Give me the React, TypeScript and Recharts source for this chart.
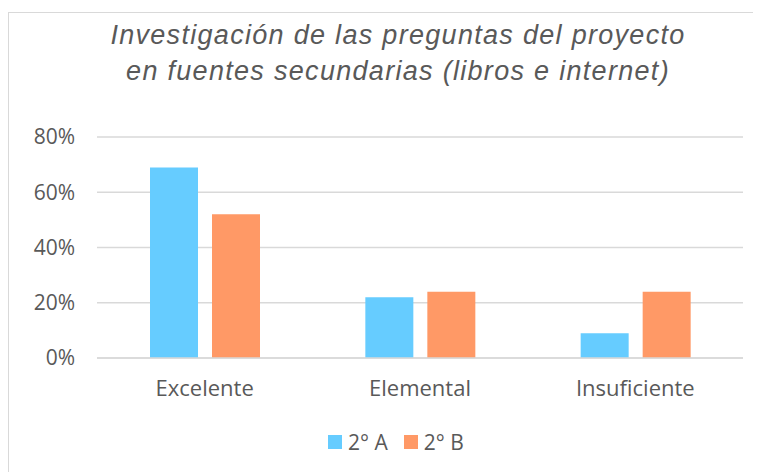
import React from "react";
import { BarChart, Bar, XAxis, YAxis, CartesianGrid, Legend } from "recharts";

const categories = ["Excelente", "Elemental", "Insuficiente"];
const seriesA = [0.69, 0.22, 0.09];
const seriesB = [0.52, 0.24, 0.24];
const seriesNames = ["2° A", "2° B"];
const yTicks = [0, 0.2, 0.4, 0.6, 0.8];
const titleLines = [
  "Investigación de las preguntas del proyecto",
  "en fuentes secundarias (libros e internet)",
];

const colors = ["#66CCFF", "#FF9966"];
const data = categories.map((c, i) => ({ name: c, a: seriesA[i], b: seriesB[i] }));

const FONT = "'Open Sans', Roboto, sans-serif";
const TEXT = "#595959";

const LegendContent = () => (
  <div style={{ display: "flex", justifyContent: "center", alignItems: "center", height: 24, paddingLeft: 40, fontFamily: FONT, fontSize: 21, color: TEXT }}>
    {seriesNames.map((n, i) => (
      <div key={n} style={{ display: "flex", alignItems: "center", marginRight: i === 0 ? 16 : 0 }}>
        <span style={{ display: "inline-block", width: 14, height: 14, background: colors[i], marginRight: 6 }} />
        <span>{n}</span>
      </div>
    ))}
  </div>
);

export default function App() {
  return (
    <div
      style={{
        position: "relative",
        marginTop: 4,
        width: 752,
        height: 462,
        border: "1px solid #d9d9d9",
        background: "#fff",
      }}
    >
      <div
        style={{
          position: "absolute",
          left: 0,
          top: 4,
          width: 778,
          textAlign: "center",
          fontFamily: "'Liberation Sans', Arial, sans-serif",
          fontStyle: "italic",
          fontSize: 27,
          letterSpacing: 1.3,
          lineHeight: "36px",
          color: TEXT,
        }}
      >
        {titleLines.map((l) => (
          <div key={l}>{l}</div>
        ))}
      </div>
      <BarChart
        width={752}
        height={462}
        data={data}
        margin={{ top: 124, right: 18, left: 0, bottom: 21 }}
        barGap={14}
        barSize={48}
      >
        <CartesianGrid vertical={false} stroke="#d9d9d9" strokeWidth={1.5} />
        <XAxis
          dataKey="name"
          height={72}
          tickLine={false}
          tickSize={0}
          tickMargin={22}
          axisLine={{ stroke: "#d9d9d9", strokeWidth: 1.5 }}
          tick={{ fill: TEXT, fontSize: 22, fontFamily: FONT }}
        />
        <YAxis
          width={88}
          domain={[0, 0.8]}
          ticks={yTicks}
          axisLine={false}
          tickLine={false}
          tickSize={0}
          tickMargin={22}
          tickFormatter={(v: number) => `${Math.round(v * 100)}%`}
          tick={{ fill: TEXT, fontSize: 21, fontFamily: FONT }}
        />
        <Legend verticalAlign="bottom" height={24} content={<LegendContent />} />
        <Bar dataKey="a" name={seriesNames[0]} fill={colors[0]} isAnimationActive={false} />
        <Bar dataKey="b" name={seriesNames[1]} fill={colors[1]} isAnimationActive={false} />
      </BarChart>
    </div>
  );
}
